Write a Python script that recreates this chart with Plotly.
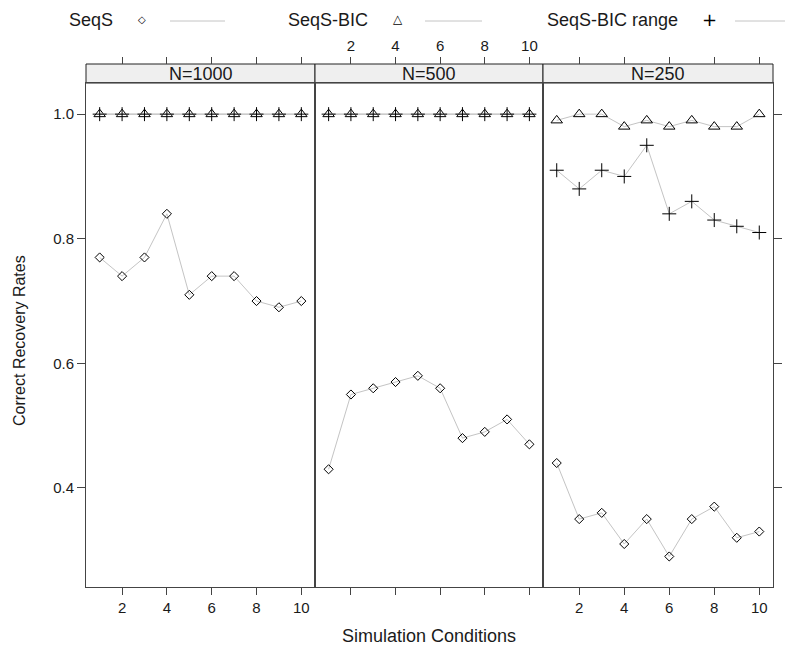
import plotly.graph_objects as go
from plotly.subplots import make_subplots

W, H = 785, 651

conditions = [1, 2, 3, 4, 5, 6, 7, 8, 9, 10]
panels = ["N=1000", "N=500", "N=250"]

seqs_1000 = [0.77, 0.74, 0.77, 0.84, 0.71, 0.74, 0.74, 0.70, 0.69, 0.70]
bic_1000 = [1.0, 1.0, 1.0, 1.0, 1.0, 1.0, 1.0, 1.0, 1.0, 1.0]
range_1000 = [1.0, 1.0, 1.0, 1.0, 1.0, 1.0, 1.0, 1.0, 1.0, 1.0]

seqs_500 = [0.43, 0.55, 0.56, 0.57, 0.58, 0.56, 0.48, 0.49, 0.51, 0.47]
bic_500 = [1.0, 1.0, 1.0, 1.0, 1.0, 1.0, 1.0, 1.0, 1.0, 1.0]
range_500 = [1.0, 1.0, 1.0, 1.0, 1.0, 1.0, 1.0, 1.0, 1.0, 1.0]

seqs_250 = [0.44, 0.35, 0.36, 0.31, 0.35, 0.29, 0.35, 0.37, 0.32, 0.33]
bic_250 = [0.99, 1.0, 1.0, 0.98, 0.99, 0.98, 0.99, 0.98, 0.98, 1.0]
range_250 = [0.91, 0.88, 0.91, 0.90, 0.95, 0.84, 0.86, 0.83, 0.82, 0.81]

series_names = ["SeqS", "SeqS-BIC", "SeqS-BIC range"]
symbols = ["diamond-open", "triangle-up-open", "cross-thin-open"]
sizes = [7, 10, 10]

y_ticks = [0.4, 0.6, 0.8, 1.0]
x_ticks = [2, 4, 6, 8, 10]

data = [
    [seqs_1000, bic_1000, range_1000],
    [seqs_500, bic_500, range_500],
    [seqs_250, bic_250, range_250],
]

FONT = "Liberation Sans, Arial, sans-serif"
TXT = "#1a1a1a"
LINE_GRAY = "#c4c4c4"
FRAME = "#444444"
TICK_SIZE = 15
LAB_SIZE = 18

def px_x(p):
    return p / W

def px_y(p):
    return 1 - p / H

panel_px = [(86, 315), (315, 543), (543, 773)]
plot_top, plot_bot = 83, 587
strip_top = 64

fig = make_subplots(rows=1, cols=3, shared_yaxes=True, horizontal_spacing=0)

for c in range(3):
    for s in range(3):
        fig.add_trace(
            go.Scatter(
                x=conditions,
                y=data[c][s],
                mode="lines+markers",
                line=dict(color=LINE_GRAY, width=1),
                marker=dict(symbol=symbols[s], size=sizes[s], color="black",
                            line=dict(color="black", width=1)),
                showlegend=False,
                name=series_names[s],
            ),
            row=1, col=c + 1,
        )

xr = [0.39, 10.61]
yr = [0.241, 1.050]
ydom = [px_y(plot_bot), px_y(plot_top)]

for c in range(3):
    dom = [px_x(panel_px[c][0]), px_x(panel_px[c][1])]
    xkey = "xaxis" if c == 0 else f"xaxis{c + 1}"
    ykey = "yaxis" if c == 0 else f"yaxis{c + 1}"
    fig.layout[xkey].update(
        domain=dom, range=xr, tickvals=x_ticks, ticks="outside", ticklen=7,
        tickcolor=FRAME, showline=True, mirror=True, linecolor=FRAME, linewidth=1,
        showgrid=False, zeroline=False, showticklabels=(c != 1),
        tickfont=dict(family=FONT, size=TICK_SIZE, color=TXT),
    )
    fig.layout[ykey].update(
        domain=ydom, range=yr, tickvals=y_ticks, ticktext=[f"{v:.1f}" for v in y_ticks],
        showline=True, mirror=True, linecolor=FRAME, linewidth=1,
        showgrid=False, zeroline=False,
        ticks="outside" if c in (0, 2) else "", ticklen=8, tickcolor=FRAME,
        showticklabels=(c == 0), side="right" if c == 2 else "left",
        tickfont=dict(family=FONT, size=TICK_SIZE, color=TXT),
    )
    # top axis above strip
    tkey = f"xaxis{c + 4}"
    fig.layout[tkey] = dict(
        domain=dom, range=xr, tickvals=x_ticks, ticks="outside", ticklen=7,
        tickcolor=FRAME, showline=False, showgrid=False, zeroline=False,
        overlaying="x" if c == 0 else f"x{c + 1}", anchor="free",
        position=px_y(strip_top), side="top", showticklabels=(c == 1),
        tickfont=dict(family=FONT, size=TICK_SIZE, color=TXT),
    )
    fig.add_trace(go.Scatter(x=[None], y=[None], xaxis=f"x{c + 4}",
                             yaxis="y" if c == 0 else f"y{c + 1}",
                             showlegend=False, hoverinfo="skip"))
    # strip
    fig.add_shape(type="rect", xref="paper", yref="paper",
                  x0=dom[0], x1=dom[1], y0=px_y(plot_top), y1=px_y(strip_top),
                  fillcolor="#efefef", line=dict(color="#222", width=1), layer="below")
    fig.add_annotation(x=(dom[0] + dom[1]) / 2, y=px_y((plot_top + strip_top) / 2 + 0.5),
                       xref="paper", yref="paper", text=panels[c], showarrow=False,
                       font=dict(family=FONT, size=LAB_SIZE, color=TXT),
                       xanchor="center", yanchor="middle")

# legend keys (text, marker glyph, line) placed in paper coordinates
leg_text_x = [115, 370, 680]
leg_mark_x = [142, 398, 709]
leg_line = [(170, 225), (425, 482), (735, 785)]
leg_glyph = ["◇", "△", "+"]
leg_glyph_size = [10, 12, 18]
leg_y = 20
for i in range(3):
    fig.add_annotation(x=px_x(leg_text_x[i]), y=px_y(leg_y), xref="paper", yref="paper",
                       text=series_names[i], showarrow=False, xanchor="right",
                       yanchor="middle",
                       font=dict(family=FONT, size=LAB_SIZE, color=TXT))
    fig.add_annotation(x=px_x(leg_mark_x[i]), y=px_y(leg_y - 1), xref="paper", yref="paper",
                       text=leg_glyph[i], showarrow=False, xanchor="center",
                       yanchor="middle",
                       font=dict(family="DejaVu Sans", size=leg_glyph_size[i], color="black"))
    fig.add_shape(type="line", xref="paper", yref="paper",
                  x0=px_x(leg_line[i][0]), x1=px_x(leg_line[i][1]),
                  y0=px_y(leg_y + 1), y1=px_y(leg_y + 1),
                  line=dict(color=LINE_GRAY, width=1))

fig.add_annotation(x=px_x(19), y=px_y(341), xref="paper", yref="paper",
                   text="Correct Recovery Rates", textangle=-90, showarrow=False,
                   font=dict(family=FONT, size=16, color=TXT),
                   xanchor="center", yanchor="middle")
fig.add_annotation(x=px_x(429), y=px_y(636), xref="paper", yref="paper",
                   text="Simulation Conditions", showarrow=False,
                   font=dict(family=FONT, size=LAB_SIZE, color=TXT),
                   xanchor="center", yanchor="middle")

fig.update_layout(
    width=W, height=H, margin=dict(l=0, r=0, t=0, b=0),
    paper_bgcolor="white", plot_bgcolor="rgba(0,0,0,0)", showlegend=False,
)

fig.write_html("out.html")
